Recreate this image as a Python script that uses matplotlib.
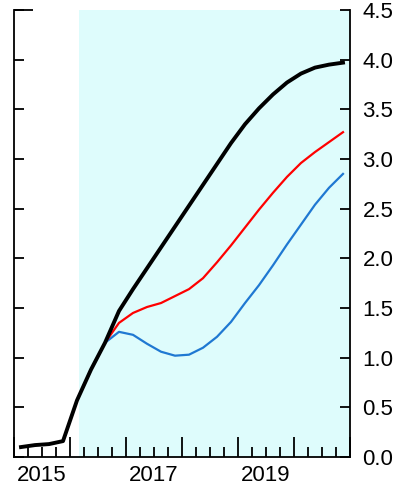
import numpy as np
import matplotlib
matplotlib.use('Agg')
import matplotlib.pyplot as plt
from matplotlib.ticker import FixedLocator, FixedFormatter

plt.rcParams['font.family'] = ['Liberation Sans', 'DejaVu Sans']

# quarterly dates (mid-quarter)
t = 2015.125 + 0.25 * np.arange(24)

black = [0.10, 0.12, 0.13, 0.16, 0.57, 0.88, 1.15, 1.47, 1.69, 1.90, 2.11, 2.32,
         2.53, 2.74, 2.95, 3.16, 3.35, 3.51, 3.65, 3.77, 3.86, 3.92, 3.95, 3.97]
# red and blue branch off the black line
t_alt = t[4:]
red = [0.57, 0.88, 1.15, 1.35, 1.45, 1.51, 1.55, 1.62, 1.69, 1.80, 1.96, 2.13,
       2.31, 2.49, 2.66, 2.82, 2.96, 3.07, 3.17, 3.27]
blue = [0.57, 0.88, 1.15, 1.26, 1.23, 1.14, 1.06, 1.02, 1.03, 1.10, 1.21, 1.36,
        1.55, 1.73, 1.93, 2.14, 2.34, 2.54, 2.71, 2.85]

shade_start = 2016.16
yticks = np.arange(0, 4.51, 0.5)
year_labels = {2015.5: '2015', 2017.5: '2017', 2019.5: '2019'}

fig = plt.figure(figsize=(4.10, 4.91), dpi=100)
ax = fig.add_axes([14/410, 1 - 457/491, 336/410, 447/491])

ax.axvspan(shade_start, 2021.0, color='#defcfc', lw=0, zorder=0)
ax.plot(t_alt, blue, color='#1f78d2', lw=1.6, zorder=2)
ax.plot(t_alt, red, color='#ff0000', lw=1.6, zorder=3)
ax.plot(t, black, color='black', lw=2.8, zorder=4)

ax.set_xlim(2015.0, 2021.0)
ax.set_ylim(0, 4.5)

for s in ['left', 'right', 'bottom']:
    ax.spines[s].set_linewidth(1.3)
ax.spines['top'].set_visible(False)

ax.set_yticks(yticks)
ax.set_yticklabels([f'{v:.1f}' for v in yticks])
ax.yaxis.tick_right()
ax.tick_params(axis='y', which='both', direction='in', left=True, right=True,
               labelleft=False, labelright=True, length=7.5, width=1.3,
               labelsize=16, pad=9)

# years as major ticks, quarters as minor ticks; labels at mid-year
ax.xaxis.set_major_locator(FixedLocator(np.arange(2015, 2022)))
ax.xaxis.set_major_formatter(FixedFormatter([''] * 7))
minor = [y + q for y in range(2015, 2021) for q in (0.25, 0.5, 0.75)]
ax.xaxis.set_minor_locator(FixedLocator(minor))
ax.xaxis.set_minor_formatter(FixedFormatter([year_labels.get(m, '') for m in minor]))
ax.tick_params(axis='x', which='major', direction='in', length=14.5, width=1.3)
ax.tick_params(axis='x', which='minor', direction='in', length=7.5, width=1.3,
               labelsize=16, pad=6)

# short cap at the top of the left axis
ax.plot([0, 19/336], [1, 1], transform=ax.transAxes, color='black', lw=1.3,
        clip_on=False, solid_capstyle='butt')

fig.savefig('out.png', dpi=100)
